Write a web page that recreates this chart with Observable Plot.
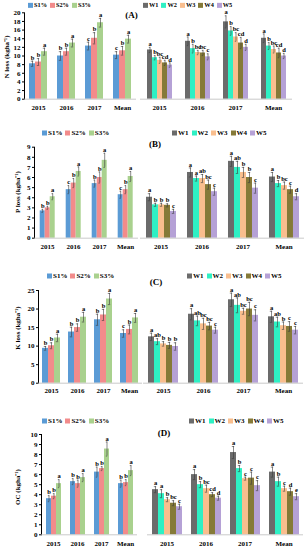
<!DOCTYPE html>
<html><head><meta charset="utf-8">
<script src="https://cdn.jsdelivr.net/npm/d3@7"></script>
<script src="https://cdn.jsdelivr.net/npm/@observablehq/plot@0.6"></script>
<style>
body{margin:0;background:#fff;}
#root{position:relative;width:308px;height:550px;overflow:hidden;font-family:"Liberation Serif",serif;font-weight:bold;color:#000;}
.legend{position:absolute;display:flex;align-items:center;font-size:7px;white-space:nowrap;line-height:1;transform:translateY(-50%);}
.legend .it{display:flex;align-items:center;margin-right:3px;}
.legend .sw{display:inline-block;width:5px;height:5px;margin-right:1px;}
.ylab{position:absolute;font-size:7px;white-space:nowrap;transform:translate(-50%,-50%) rotate(-90deg);}
.plab{position:absolute;font-size:9px;white-space:nowrap;transform:translate(-50%,-50%);}
</style></head><body><div id="root"></div>
<script>
const years = ["2015", "2016", "2017", "Mean"];
const sLevels = ["S1%", "S2%", "S3%"];
const wLevels = ["W1", "W2", "W3", "W4", "W5"];
const sColors = ["#5B9BD5", "#F28B8B", "#A9D18E"];
const wColors = ["#6B6B6B", "#2EF0C4", "#F9BE8E", "#857A38", "#B5A1D6"];

// (A) N loss — rows: series, columns: years
const nS = [[8.2, 10.0, 12.3, 10.2], [8.6, 11.0, 14.1, 11.2], [11.0, 13.0, 17.7, 13.9]];
const nSe = [[0.6, 1.0, 0.9, 0.8], [0.8, 0.8, 1.3, 1.0], [0.8, 0.9, 1.0, 0.9]];
const nSl = [["b", "b", "c", "c"], ["b", "b", "b", "b"], ["a", "a", "a", "a"]];
const nW = [[11.4, 13.4, 17.9, 14.1], [9.6, 11.7, 15.8, 12.3], [9.0, 10.8, 14.4, 11.5], [8.4, 10.7, 13.0, 10.7], [7.9, 9.8, 12.0, 10.0]];
const nWe = [[0.6, 1.0, 1.4, 1.0], [0.5, 1.0, 1.0, 0.8], [0.7, 0.5, 1.0, 0.8], [0.6, 0.6, 1.3, 1.1], [0.5, 0.7, 0.7, 0.6]];
const nWl = [["a", "a", "a", "a"], ["b", "b", "b", "b"], ["bc", "bc", "bc", "bc"], ["cd", "bc", "cd", "cd"], ["d", "c", "d", "d"]];

// (B) P loss
const pS = [[2.7, 4.8, 5.4, 4.3], [3.0, 5.45, 6.0, 4.8], [4.1, 6.6, 7.7, 6.1]];
const pSe = [[0.15, 0.4, 0.35, 0.35], [0.15, 0.45, 0.55, 0.4], [0.3, 0.45, 0.7, 0.5]];
const pSl = [["b", "c", "b", "c"], ["b", "b", "b", "b"], ["a", "a", "a", "a"]];
const pW = [[4.05, 6.5, 7.6, 6.05], [3.3, 5.9, 7.0, 5.4], [3.3, 5.9, 6.5, 5.2], [3.25, 5.3, 6.0, 4.8], [2.65, 4.6, 4.95, 4.1]];
const pWe = [[0.35, 0.45, 0.5, 0.45], [0.15, 0.25, 0.6, 0.3], [0.15, 0.4, 0.5, 0.35], [0.15, 0.45, 0.5, 0.35], [0.2, 0.35, 0.5, 0.3]];
const pWl = [["a", "a", "a", "a"], ["b", "a", "ab", "b"], ["b", "ab", "b", "bc"], ["b", "bc", "b", "c"], ["c", "c", "c", "d"]];

// (C) K loss
const kS = [[9.4, 13.8, 17.1, 13.4], [10.1, 15.0, 18.4, 14.5], [12.2, 17.8, 22.7, 17.6]];
const kSe = [[0.5, 1.3, 1.5, 1.0], [0.8, 1.0, 1.5, 1.2], [1.0, 1.3, 1.5, 1.2]];
const kSl = [["b", "b", "b", "c"], ["b", "b", "b", "b"], ["a", "a", "a", "a"]];
const kW = [[12.5, 18.6, 22.5, 17.9], [11.2, 16.8, 21.0, 16.5], [10.6, 16.0, 19.4, 15.5], [10.2, 15.4, 20.0, 15.3], [9.9, 14.3, 18.3, 14.3]];
const kWe = [[1.0, 1.5, 1.8, 1.5], [0.8, 1.3, 2.0, 1.3], [0.6, 1.5, 0.8, 1.0], [0.8, 1.0, 1.8, 1.3], [1.0, 0.8, 1.5, 1.0]];
const kWl = [["a", "a", "a", "a"], ["ab", "ab", "ab", "ab"], ["b", "bc", "bc", "b"], ["b", "bc", "bc", "c"], ["b", "c", "c", "c"]];

// (D) OC
const oS = [[3.6, 5.3, 6.25, 5.1], [3.85, 5.1, 6.6, 5.2], [5.1, 5.7, 8.55, 6.4]];
const oSe = [[0.3, 0.3, 0.5, 0.35], [0.25, 0.35, 0.2, 0.3], [0.4, 0.4, 0.7, 0.5]];
const oSl = [["b", "b", "b", "b"], ["b", "b", "b", "b"], ["a", "a", "a", "a"]];
const oW = [[4.5, 6.0, 8.2, 6.25], [4.1, 5.0, 6.6, 5.3], [3.5, 4.6, 5.6, 4.6], [3.15, 4.0, 5.65, 4.3], [2.8, 3.65, 4.9, 3.8]];
const oWe = [[0.3, 0.5, 0.6, 0.5], [0.4, 0.3, 0.3, 0.45], [0.2, 0.35, 0.15, 0.25], [0.25, 0.2, 0.6, 0.35], [0.25, 0.2, 0.5, 0.3]];
const oWl = [["a", "a", "a", "a"], ["a", "b", "b", "b"], ["b", "bc", "c", "c"], ["bc", "cd", "c", "d"], ["c", "d", "c", "e"]];

const yTitles = ["N loss (kgha\u207B\u00B9)", "P loss (kgha\u207B\u00B9)", "K loss (kgha\u207B\u00B9)", "OC (kgha\u207B\u00B9)"];
const panelTags = ["(A)", "(B)", "(C)", "(D)"];

const root = document.getElementById("root");

function table(levels, vals, errs, lets) {
  const rows = [];
  levels.forEach((lv, i) => years.forEach((yr, j) => rows.push({year: yr, level: lv, v: vals[i][j], e: errs[i][j], l: lets[i][j]})));
  return rows;
}

function sub(o) {
  const rows = table(o.levels, o.vals, o.errs, o.lets);
  const ebar = {fx: "year", x: "level", stroke: "#3a3a3a", strokeWidth: 0.6};
  const p = Plot.plot({
    width: o.width, height: o.height,
    marginTop: o.mTop, marginBottom: o.mBottom, marginLeft: o.mLeft, marginRight: 0,
    style: {fontFamily: "Liberation Serif", fontWeight: "bold", fontSize: "7px", background: "transparent", overflow: "visible"},
    fx: {domain: years, padding: 0, axis: "bottom", tickSize: 0, tickPadding: o.tickPad, label: null},
    x: {domain: o.levels, paddingInner: 0, paddingOuter: o.pad, axis: null},
    y: {domain: o.domain, ticks: o.ticks, axis: o.showY ? "left" : null, tickSize: 2, tickPadding: 2, label: null, line: o.showY},
    color: {domain: o.levels, range: o.colors},
    marks: [
      Plot.barY(rows, {fx: "year", x: "level", y: "v", fill: "level"}),
      Plot.ruleY([0], {stroke: "#bdbdbd", strokeWidth: 0.8}),
      Plot.ruleX(rows, {...ebar, y1: d => d.v - d.e, y2: d => d.v + d.e}),
      Plot.tickY(rows, {...ebar, y: d => d.v + d.e, insetLeft: 1.8, insetRight: 1.8}),
      Plot.tickY(rows, {...ebar, y: d => d.v - d.e, insetLeft: 1.8, insetRight: 1.8}),
      Plot.text(rows, {fx: "year", x: "level", y: d => d.v + d.e, text: "l", dy: -3.5, fontSize: 6.5, fill: "#000"})
    ]
  });
  p.style.position = "absolute";
  p.style.left = o.left + "px";
  p.style.top = o.top + "px";
  root.appendChild(p);
}

function legend(levels, colors, x, y, fs) {
  const d = document.createElement("div");
  d.className = "legend";
  d.style.left = x + "px"; d.style.top = y + "px"; d.style.fontSize = fs + "px";
  levels.forEach((lv, i) => {
    const it = document.createElement("div"); it.className = "it";
    const sw = document.createElement("span"); sw.className = "sw"; sw.style.background = colors[i];
    const t = document.createElement("span"); t.textContent = lv;
    it.appendChild(sw); it.appendChild(t); d.appendChild(it);
  });
  root.appendChild(d);
}

function label(cls, text, x, y) {
  const d = document.createElement("div");
  d.className = cls; d.textContent = text;
  d.style.left = x + "px"; d.style.top = y + "px";
  root.appendChild(d);
}

// panel layouts (pixel geometry only)
const layouts = [
  {top: 0, height: 110, mTop: 12.3, mBottom: 11.3, tickPad: 6, domain: [0, 20], ticks: d3.range(0, 21, 2),
   L: {left: 0, width: 137.5, mLeft: 22, pad: 0.73}, R: {left: 137.5, width: 155.5, pad: 0.8},
   legS: [28, 5, 6.3], legW: [143, 5, 6.3], yl: [6, 57], tag: [131.5, 15],
   S: [nS, nSe, nSl], W: [nW, nWe, nWl]},
  {top: 138, height: 112, mTop: 8.7, mBottom: 12.3, tickPad: 6, domain: [0, 9], ticks: d3.range(0, 10, 1),
   L: {left: 0, width: 139.3, mLeft: 32.3, pad: 0.77}, R: {left: 139.3, width: 166.7, pad: 0.8},
   legS: [42, 133, 7], legW: [172, 133, 7], yl: [17, 192], tag: [155, 144],
   S: [pS, pSe, pSl], W: [pW, pWe, pWl]},
  {top: 285, height: 109, mTop: 5, mBottom: 11.3, tickPad: 4.5, domain: [0, 25], ticks: d3.range(0, 26, 5),
   L: {left: 0, width: 143, mLeft: 36, pad: 0.65}, R: {left: 143.3, width: 160, pad: 0.83},
   legS: [47, 276, 7], legW: [187, 276, 7], yl: [17, 328], tag: [156, 282],
   S: [kS, kSe, kSl], W: [kW, kWe, kWl]},
  {top: 430, height: 120, mTop: 4, mBottom: 15.7, tickPad: 6.5, domain: [0, 10], ticks: d3.range(0, 11, 1),
   L: {left: 0, width: 137, mLeft: 40, pad: 0.7}, R: {left: 146, width: 158, pad: 0.69},
   legS: [42, 421, 7], legW: [189, 421, 7], yl: [17, 487], tag: [164, 433],
   S: [oS, oSe, oSl], W: [oW, oWe, oWl]}
];

layouts.forEach((g, k) => {
  const common = {top: g.top, height: g.height, mTop: g.mTop, mBottom: g.mBottom, tickPad: g.tickPad, domain: g.domain, ticks: g.ticks};
  sub({...common, left: g.L.left, width: g.L.width, mLeft: g.L.mLeft, pad: g.L.pad, showY: true,
       levels: sLevels, colors: sColors, vals: g.S[0], errs: g.S[1], lets: g.S[2]});
  sub({...common, left: g.R.left, width: g.R.width, mLeft: 0, pad: g.R.pad, showY: false,
       levels: wLevels, colors: wColors, vals: g.W[0], errs: g.W[1], lets: g.W[2]});
  legend(sLevels, sColors, g.legS[0], g.legS[1], g.legS[2]);
  legend(wLevels, wColors, g.legW[0], g.legW[1], g.legW[2]);
  label("ylab", yTitles[k], g.yl[0], g.yl[1]);
  label("plab", panelTags[k], g.tag[0], g.tag[1]);
});
</script></body></html>
